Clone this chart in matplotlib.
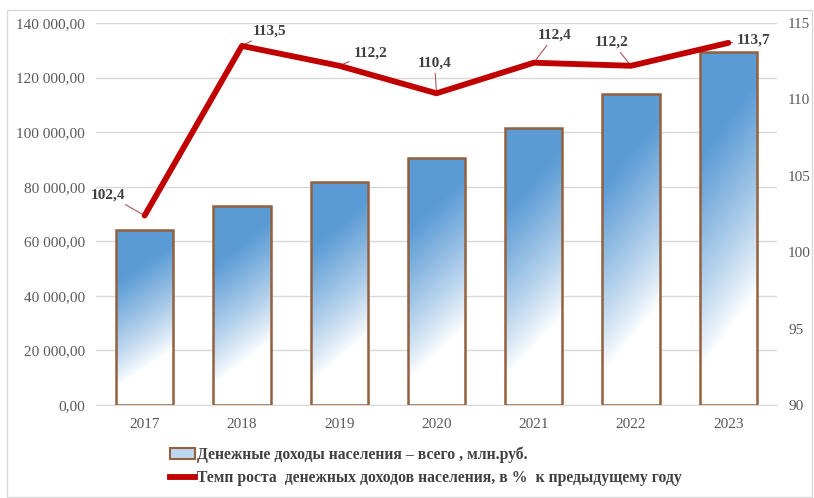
import numpy as np
import matplotlib
matplotlib.use("Agg")
import matplotlib.pyplot as plt
from matplotlib.patches import Patch, Rectangle
from matplotlib.lines import Line2D
from matplotlib.ticker import FuncFormatter, MultipleLocator

years = ["2017", "2018", "2019", "2020", "2021", "2022", "2023"]
income = [64100, 72900, 81700, 90500, 101500, 114000, 129400]
growth = [102.4, 113.5, 112.2, 110.4, 112.4, 112.2, 113.7]
growth_labels = ["102,4", "113,5", "112,2", "110,4", "112,4", "112,2", "113,7"]
label_offsets = [(-26.5, 15), (20, 10.8), (22.3, 9.4), (-1.4, 22), (15, 20), (-13.7, 17), (18, 2)]
legend_bar = "Денежные доходы населения – всего , млн.руб."
legend_line = "Темп роста  денежных доходов населения, в %  к предыдущему году"

plt.rcParams["font.family"] = ["Liberation Serif", "DejaVu Serif"]

fig = plt.figure(figsize=(8.14, 4.98), dpi=100)
ax = fig.add_axes([96 / 814, 1 - 405 / 498, (777 - 96) / 814, (405 - 23) / 498])
ax2 = ax.twinx()

x = np.arange(len(years))
w = 0.59
edge = "#94613F"
blue = np.array([0x5B, 0x9B, 0xD5]) / 255.0
white = np.array([1.0, 1.0, 1.0])

bars = ax.bar(x, income, width=w, facecolor="none", edgecolor=edge, linewidth=1.8, zorder=3)
ny, nx = 200, 40
yy, xx = np.mgrid[0:ny, 0:nx]
yf = 1 - yy / (ny - 1)
xf = xx / (nx - 1)
t = np.clip((yf - 0.1 - 0.22 * xf) / 0.6, 0, 1) ** 0.85
img = white[None, None, :] * (1 - t[..., None]) + blue[None, None, :] * t[..., None]
for b in bars:
    bx, by = b.get_x(), b.get_y()
    bw, bh = b.get_width(), b.get_height()
    im = ax.imshow(img, extent=[bx, bx + bw, by, by + bh], origin="upper",
                   aspect="auto", zorder=2, interpolation="bilinear")
    im.set_clip_path(b)
ax.set_aspect("auto")

ax.set_xlim(-0.5, len(years) - 0.5)
ax.set_ylim(0, 140000)
ax.yaxis.set_major_locator(MultipleLocator(20000))
ax.yaxis.set_major_formatter(FuncFormatter(lambda v, p: f"{v:,.2f}".replace(",", " ").replace(".", ",")))
ax.set_xticks(x)
ax.set_xticklabels(years)
ax.grid(axis="y", color="#D9D9D9", linewidth=1, zorder=0)
ax.set_axisbelow(True)
for s in ["top", "left", "right"]:
    ax.spines[s].set_visible(False)
ax.spines["bottom"].set_color("#D9D9D9")
ax.tick_params(axis="both", length=0, labelsize=11, colors="#595959")
ax.tick_params(axis="x", pad=9)
ax.tick_params(axis="y", pad=8)

ax2.plot(x, growth, color="#C00000", linewidth=4.2, solid_capstyle="round", zorder=5)
ax2.set_ylim(90, 115)
ax2.yaxis.set_major_locator(MultipleLocator(5))
for s in ["top", "left", "right", "bottom"]:
    ax2.spines[s].set_visible(False)
ax2.tick_params(axis="y", length=0, labelsize=11, colors="#595959", pad=8)

for xi, gi, lab, off in zip(x, growth, growth_labels, label_offsets):
    ax2.annotate(lab, xy=(xi, gi), xytext=off, textcoords="offset points",
                 ha="center", va="center", fontsize=11, fontweight="bold", color="#404040",
                 arrowprops=dict(arrowstyle="-", color="#B05555", linewidth=0.8,
                                 shrinkA=1, shrinkB=2))

handles = [Patch(facecolor="#BDD7EE", edgecolor=edge, linewidth=1.5),
           Line2D([0], [0], color="#C00000", linewidth=4.2)]
fig.legend(handles, [legend_bar, legend_line], loc="upper left",
           bbox_to_anchor=(162 / 814, 1 - 439 / 498), frameon=False,
           prop={"size": 11.3, "weight": "bold"}, labelcolor="#404040",
           handlelength=1.6, handletextpad=0.1, labelspacing=0.45, borderpad=0)

fig.patches.append(Rectangle((7 / 814, 0.002), 805 / 814, 1 - 10 / 498 - 0.002,
                             transform=fig.transFigure, fill=False,
                             edgecolor="#D9D9D9", linewidth=1))

fig.savefig("out.png", dpi=100)
